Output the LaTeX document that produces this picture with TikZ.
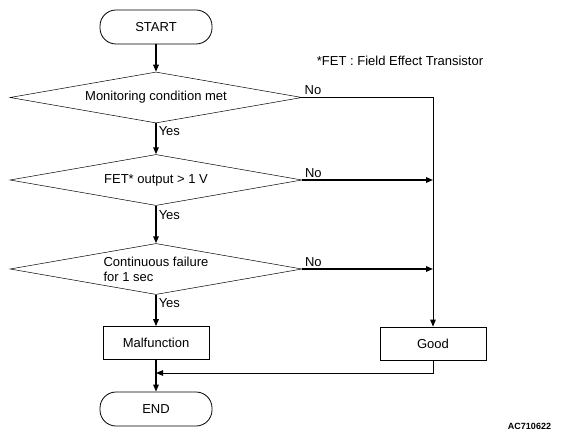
\documentclass[tikz,border=0pt]{standalone}
\usepackage{fontspec}
\setmainfont{Liberation Sans}
\usetikzlibrary{shapes.geometric,arrows.meta}

\begin{document}
\begin{tikzpicture}[x=1pt, y=-1pt,
		font=\fontsize{13}{15}\selectfont,
		terminal/.style = {draw, line width=0.8pt, rounded corners=16pt, minimum width=112pt, minimum height=34pt, inner sep=0pt},
		decision/.style = {draw, diamond, aspect=5.7, line width=0.5pt, minimum width=292pt, minimum height=51pt, inner sep=0pt},
		process/.style = {draw, line width=0.7pt, minimum width=106pt, minimum height=33pt, inner sep=0pt},
		flow/.style = {line width=1.5pt, -{Triangle[length=7pt,width=5.5pt]}},
		thin flow/.style = {line width=0.9pt, -{Triangle[length=7pt,width=5.5pt]}},
		answer/.style = {inner sep=2pt}]
		\useasboundingbox (0,0) rectangle (561,438);
		\node[terminal] (start) at (156,27) {START};
		\node[decision] (d1) at (156,97.5) {Monitoring condition met};
		\node[decision] (d2) at (156,180) {FET* output > 1 V};
		\node[decision, align=left] (d3) at (156,269) {Continuous failure\\for 1 sec};
		\node[process] (mal) at (156,343) {Malfunction};
		\node[process] (good) at (433,343.5) {Good};
		\node[terminal] (end) at (156,409) {END};
		\node (note) at (400,61) {*FET : Field Effect Transistor};
		\node[font=\fontsize{9}{10}\selectfont\bfseries] (code) at (529.5,426) {AC710622};
		\coordinate (c1) at (d1.east -| good.north);
		\coordinate (c2) at (d2.east -| good.north);
		\coordinate (c3) at (d3.east -| good.north);
		\coordinate (j1) at (good.south |- 0,373);
		\coordinate (j2) at (mal.south |- 0,373);
		\draw[flow] (start) -- (d1);
		\draw[flow] (d1) -- node[answer, near start, right] (y1) {Yes} (d2);
		\draw[flow] (d2) -- node[answer, near start, right] (y2) {Yes} (d3);
		\draw[flow] (d3) -- node[answer, near start, right] (y3) {Yes} (mal);
		\draw[flow] (mal) -- (end);
		\draw[thin flow] (d1.east) node[answer, above right] (n1) {No} -- (c1) -- (good.north);
		\draw[flow] (d2.east) node[answer, above right] (n2) {No} -- (c2);
		\draw[flow] (d3.east) node[answer, above right] (n3) {No} -- (c3);
		\draw[thin flow] (good.south) -- (j1) -- (j2);

\end{tikzpicture}
\end{document}
